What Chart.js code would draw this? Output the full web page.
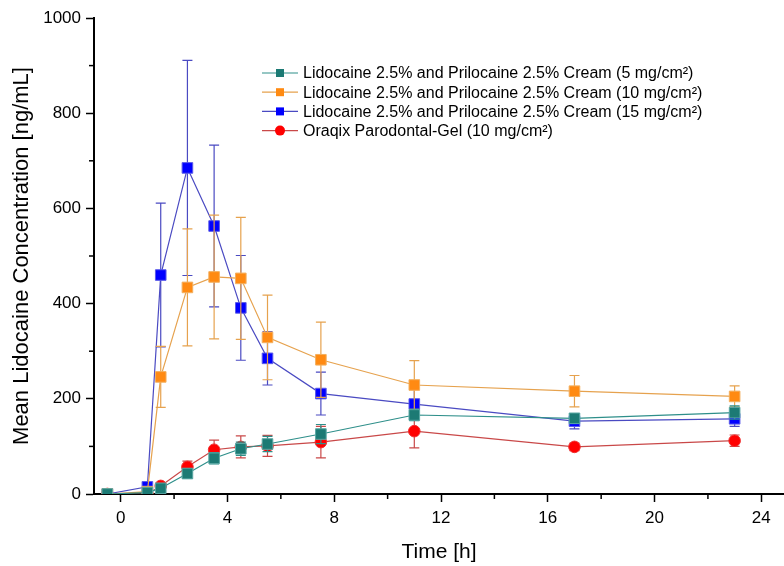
<!DOCTYPE html>
<html>
<head>
<meta charset="utf-8">
<script src="https://cdn.jsdelivr.net/npm/chart.js@4.4.1/dist/chart.umd.min.js"></script>
<style>
  body { margin: 0; background: #fff; }
  #wrap { width: 784px; height: 566px; }
</style>
</head>
<body>
<div id="wrap"><canvas id="pkChart" width="784" height="566"></canvas></div>
<script>
// sampling times [h]
const timeH = [-0.5, 1, 1.5, 2.5, 3.5, 4.5, 5.5, 7.5, 11, 17, 23];

// mean lidocaine concentration [ng/mL] and SD
const cream5 = [0, 3, 12, 43, 75, 95, 105, 126, 166, 159, 171];
const cream5Sd = [0, 2, 5, 10, 12, 14, 16, 20, 12, 10, 14];
const cream10 = [0, 5, 246, 434, 456, 453, 329, 282, 229, 216, 205];
const cream10Sd = [0, 3, 64, 123, 130, 128, 89, 79, 51, 33, 22];
const cream15 = [0, 15, 460, 685, 563, 391, 285, 211, 189, 153, 158];
const cream15Sd = [0, 8, 151, 226, 170, 110, 56, 45, 34, 16, 16];
const oraqix = [0, 0, 17, 57, 93, 99, 101, 109, 132, 99, 112];
const oraqixSd = [0, 0, 6, 12, 20, 23, 22, 33, 35, 8, 12];

const seriesNames = [
    'Lidocaine 2.5% and Prilocaine 2.5% Cream (5 mg/cm²)',
    'Lidocaine 2.5% and Prilocaine 2.5% Cream (10 mg/cm²)',
    'Lidocaine 2.5% and Prilocaine 2.5% Cream (15 mg/cm²)',
    'Oraqix Parodontal-Gel (10 mg/cm²)'
];

const xMajorTicks = [0, 4, 8, 12, 16, 20, 24];
const xMinorTicks = [2, 6, 10, 14, 18, 22];
const yMajorTicks = [0, 200, 400, 600, 800, 1000];
const yMinorTicks = [100, 300, 500, 700, 900];

const FONT = '"Liberation Sans", Arial, sans-serif';

function toPoints(values) {
    return timeH.map((t, i) => ({ x: t, y: values[i] }));
}

function makeSeries(label, values, sd, line, fill, edge, style, radius) {
    return {
        label: label,
        data: toPoints(values),
        sd: sd,
        borderColor: line,
        borderWidth: 1.2,
        pointStyle: style,
        pointRadius: radius,
        pointBackgroundColor: fill,
        pointBorderColor: edge,
        pointBorderWidth: 1,
        tension: 0,
        clip: { left: 20, top: 20, right: 20, bottom: 0 }
    };
}

// draws SD whiskers behind each series' line and markers
const errorBars = {
    id: 'errorBars',
    beforeDatasetDraw(chart, args) {
        const ds = chart.data.datasets[args.index];
        const yScale = chart.scales.y;
        const area = chart.chartArea;
        const ctx = chart.ctx;
        ctx.save();
        ctx.beginPath();
        ctx.rect(area.left, area.top - 10, area.right - area.left, area.bottom - area.top + 10);
        ctx.clip();
        ctx.strokeStyle = ds.borderColor;
        ctx.lineWidth = 1.2;
        args.meta.data.forEach((pt, i) => {
            const sd = ds.sd[i];
            if (!sd) return;
            const v = ds.data[i].y;
            const yTop = yScale.getPixelForValue(v + sd);
            const yBot = yScale.getPixelForValue(v - sd);
            ctx.beginPath();
            ctx.moveTo(pt.x, yTop);
            ctx.lineTo(pt.x, yBot);
            ctx.moveTo(pt.x - 5, yTop);
            ctx.lineTo(pt.x + 5, yTop);
            ctx.moveTo(pt.x - 5, yBot);
            ctx.lineTo(pt.x + 5, yBot);
            ctx.stroke();
        });
        ctx.restore();
    }
};

// short outward minor ticks on both axes
const minorTicks = {
    id: 'minorTicks',
    afterDraw(chart) {
        const { ctx, chartArea, scales } = chart;
        ctx.save();
        ctx.strokeStyle = '#000';
        ctx.lineWidth = 1.5;
        xMinorTicks.forEach(v => {
            const x = scales.x.getPixelForValue(v);
            ctx.beginPath();
            ctx.moveTo(x, chartArea.bottom);
            ctx.lineTo(x, chartArea.bottom + 5);
            ctx.stroke();
        });
        yMinorTicks.forEach(v => {
            const y = scales.y.getPixelForValue(v);
            ctx.beginPath();
            ctx.moveTo(chartArea.left, y);
            ctx.lineTo(chartArea.left - 5, y);
            ctx.stroke();
        });
        ctx.restore();
    }
};

// legend inside the plot: line segment with marker, then the label
const insideLegend = {
    id: 'insideLegend',
    afterDraw(chart) {
        const ctx = chart.ctx;
        const x0 = 262, y0 = 73, rowH = 19.2;
        ctx.save();
        ctx.font = '16px ' + FONT;
        ctx.textBaseline = 'middle';
        ctx.textAlign = 'left';
        chart.data.datasets.forEach((ds, i) => {
            const y = y0 + i * rowH;
            ctx.strokeStyle = ds.borderColor;
            ctx.lineWidth = 1.2;
            ctx.beginPath();
            ctx.moveTo(x0, y);
            ctx.lineTo(x0 + 36, y);
            ctx.stroke();
            ctx.fillStyle = ds.pointBackgroundColor;
            if (ds.pointStyle === 'circle') {
                ctx.beginPath();
                ctx.arc(x0 + 18, y, 5, 0, Math.PI * 2);
                ctx.fill();
            } else {
                ctx.fillRect(x0 + 14, y - 4, 8, 8);
            }
            ctx.fillStyle = '#000';
            ctx.fillText(ds.label, x0 + 41, y + 1);
        });
        ctx.restore();
    }
};

const ctx = document.getElementById('pkChart').getContext('2d');

new Chart(ctx, {
    type: 'line',
    data: {
        datasets: [
            makeSeries(seriesNames[0], cream5, cream5Sd, '#2e8f8a', '#1c7a74', '#5aa8a4', 'rect', 7.5),
            makeSeries(seriesNames[1], cream10, cream10Sd, '#e6a24e', '#ff8a12', '#f3b060', 'rect', 7.5),
            makeSeries(seriesNames[2], cream15, cream15Sd, '#4a4ac2', '#0000ff', '#5a5ae8', 'rect', 7.5),
            makeSeries(seriesNames[3], oraqix, oraqixSd, '#c94848', '#ff0000', '#f03030', 'circle', 5.8)
        ]
    },
    options: {
        responsive: false,
        animation: false,
        layout: { autoPadding: false, padding: { top: 18, right: 0, bottom: 0, left: 0 } },
        plugins: {
            legend: { display: false },
            tooltip: { enabled: false }
        },
        scales: {
            x: {
                type: 'linear',
                min: -1,
                max: 24.85,
                afterFit: s => { s.height = 72; s.paddingLeft = 0; s.paddingRight = 0; },
                afterBuildTicks: s => { s.ticks = xMajorTicks.map(v => ({ value: v })); },
                grid: { drawOnChartArea: false, drawTicks: true, tickLength: 8, tickWidth: 1.5, tickColor: '#000' },
                border: { display: true, color: '#000', width: 2 },
                ticks: {
                    autoSkip: false,
                    maxRotation: 0,
                    padding: 6,
                    color: '#000',
                    font: { family: FONT, size: 17 },
                    callback: v => String(v)
                },
                title: {
                    display: true,
                    text: 'Time [h]',
                    color: '#000',
                    font: { family: FONT, size: 21 },
                    padding: { top: 1, bottom: 1 }
                }
            },
            y: {
                min: 0,
                max: 1000,
                afterFit: s => { s.width = 94; s.paddingTop = 0; s.paddingBottom = 0; },
                afterBuildTicks: s => { s.ticks = yMajorTicks.map(v => ({ value: v })); },
                grid: { drawOnChartArea: false, drawTicks: true, tickLength: 8, tickWidth: 1.5, tickColor: '#000' },
                border: { display: true, color: '#000', width: 2 },
                ticks: {
                    autoSkip: false,
                    padding: 5,
                    color: '#000',
                    font: { family: FONT, size: 17 },
                    callback: v => String(v)
                },
                title: {
                    display: true,
                    text: 'Mean Lidocaine Concentration [ng/mL]',
                    color: '#000',
                    font: { family: FONT, size: 22 },
                    padding: { top: 9, bottom: 9 }
                }
            }
        }
    },
    plugins: [errorBars, minorTicks, insideLegend]
});
</script>
</body>
</html>
